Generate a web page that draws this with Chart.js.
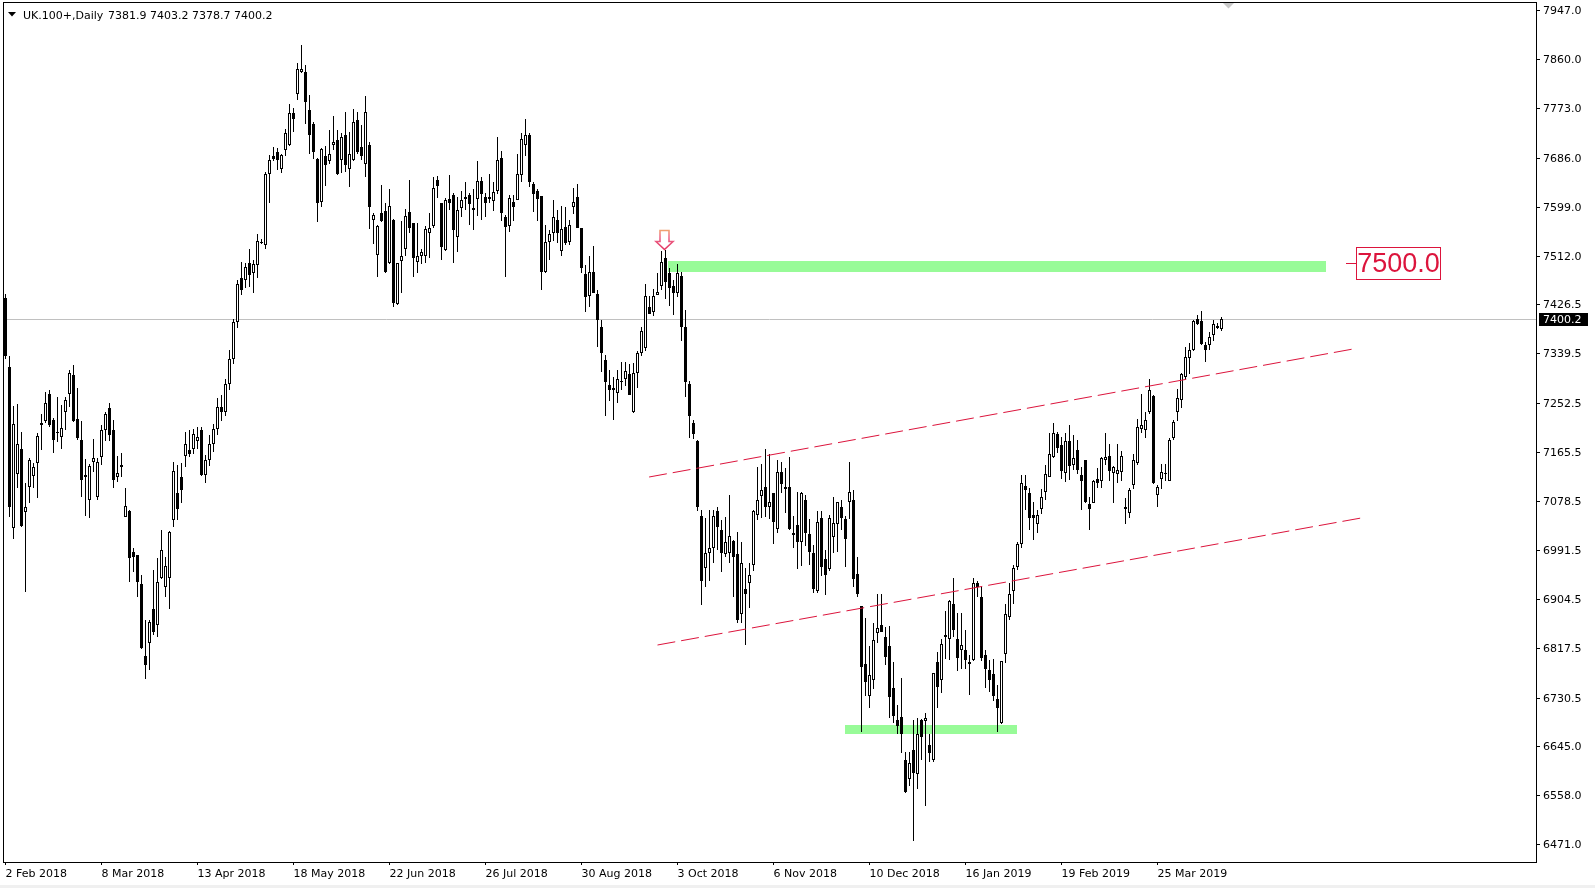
<!DOCTYPE html>
<html>
<head>
<meta charset="utf-8">
<script src="https://cdn.jsdelivr.net/npm/chart.js@4/dist/chart.umd.min.js"></script>
<style>
html,body{margin:0;padding:0;background:#fff;overflow:hidden}
#c{display:block}
</style>
</head>
<body>
<canvas id="c" width="1595" height="888"></canvas>
<script>
// ---------- chart data ----------
const symbolTitle = 'UK.100+,Daily';
const lastQuote = [7381.9, 7403.2, 7378.7, 7400.2]; // O H L C of last bar

const opens = [
7437,7315,7030,7127,7170,7059,7104,7123,7145,7212,
7220,7267,7222,7201,7191,7236,7267,7301,7223,7186,
7124,7081,7148,7086,7156,7204,7242,7204,7120,7142,
7050,7061,6989,6983,6931,6804,6828,6888,6859,6943,
6926,6943,7045,7092,7121,7158,7168,7171,7185,7204,
7124,7150,7180,7205,7245,7235,7285,7330,7395,7472,
7470,7499,7481,7495,7537,7532,7656,7688,7696,7665,
7699,7709,7764,7798,7838,7837,7770,7746,7683,7608,
7688,7680,7708,7717,7682,7725,7665,7682,7752,7704,
7674,7708,7575,7513,7588,7591,7499,7576,7427,7503,
7525,7589,7571,7502,7511,7512,7552,7564,7646,7605,
7522,7613,7620,7546,7597,7612,7620,7597,7612,7645,
7616,7613,7609,7626,7685,7580,7564,7607,7611,7655,
7709,7726,7640,7627,7618,7484,7537,7553,7576,7520,
7563,7537,7598,7617,7561,7480,7441,7483,7445,7386,
7328,7284,7274,7270,7291,7295,7303,7235,7305,7340,
7349,7421,7413,7442,7458,7508,7481,7459,7447,7476,
7386,7285,7216,7185,7051,6959,6986,6995,7060,7027,
6985,6986,7008,6985,6879,6922,6933,6965,7054,7088,
7103,7068,7092,7028,7130,7103,7104,7021,7036,7006,
7080,7020,6986,6920,7048,6975,6958,7015,7038,7067,
7046,7077,7081,6950,6893,6790,6733,6761,6845,6859,
6837,6822,6747,6691,6696,6621,6586,6638,6595,6691,
6689,6647,6620,6794,6761,6837,6834,6896,6835,6815,
6815,6790,6797,6934,6908,6806,6779,6772,6728,6686,
6808,6873,6920,6961,7002,7105,7093,7053,7038,7064,
7095,7121,7157,7197,7177,7128,7185,7142,7169,7124,
7150,7073,7075,7118,7113,7150,7158,7128,7127,7130,
7067,7058,7107,7145,7205,7204,7235,7264,7089,7118,
7127,7113,7189,7235,7257,7298,7331,7345,7400,7396,
7354,7354,7372,7388,7381.9
];
const highs = [
7445,7334,7246,7250,7200,7111,7154,7145,7198,7232,
7272,7275,7225,7262,7248,7262,7310,7319,7278,7219,
7152,7144,7188,7154,7213,7236,7252,7222,7158,7164,
7102,7062,6995,6983,6947,6868,6867,6957,6977,7027,
6980,7026,7148,7142,7146,7201,7204,7205,7210,7210,
7160,7195,7215,7260,7265,7295,7345,7400,7470,7502,
7500,7524,7505,7551,7541,7661,7690,7704,7702,7693,
7736,7781,7774,7854,7885,7850,7797,7748,7685,7702,
7706,7735,7760,7735,7729,7767,7732,7771,7767,7744,
7795,7714,7587,7567,7637,7606,7631,7577,7499,7574,
7595,7646,7571,7571,7525,7564,7587,7652,7653,7606,
7614,7655,7623,7616,7626,7642,7624,7630,7679,7652,
7624,7657,7642,7723,7698,7584,7620,7620,7693,7730,
7754,7729,7642,7631,7618,7567,7558,7610,7593,7600,
7598,7576,7632,7640,7561,7496,7512,7530,7452,7399,
7337,7310,7298,7310,7325,7325,7321,7322,7343,7387,
7463,7441,7453,7481,7520,7522,7490,7469,7498,7484,
7416,7290,7222,7186,7063,7048,7063,7063,7068,7045,
7050,7089,7009,7024,7005,6959,6968,7063,7138,7144,
7170,7162,7093,7151,7148,7136,7156,7051,7095,7095,
7089,7046,7001,7060,7060,6992,7054,7086,7077,7081,
7051,7148,7098,6979,6893,6871,6821,6862,6914,6914,
6856,6857,6794,6718,6766,6635,6635,6691,6694,6692,
6703,6667,6774,6812,6835,6883,6904,6942,6880,6880,
6850,6806,6943,6936,6928,6815,6797,6798,6753,6796,
6896,6933,6965,7005,7124,7124,7101,7077,7062,7099,
7142,7198,7217,7201,7191,7199,7213,7195,7186,7138,
7151,7086,7115,7136,7157,7198,7180,7140,7180,7166,
7083,7101,7162,7223,7268,7235,7294,7266,7107,7144,
7144,7189,7222,7276,7305,7351,7357,7399,7407,7415,
7360,7378,7399,7393,7403.2
];
const lows = [
7330,7050,7012,7102,7032,6918,7075,7102,7083,7169,
7217,7210,7164,7183,7170,7204,7245,7218,7186,7086,
7052,7048,7130,7080,7142,7185,7185,7102,7112,7121,
7050,6935,6953,6909,6816,6764,6779,6841,6837,6941,
6909,6888,7033,7045,7074,7139,7157,7162,7171,7122,
7110,7140,7165,7195,7220,7228,7275,7320,7385,7443,
7455,7457,7446,7472,7533,7525,7605,7680,7664,7659,
7688,7706,7732,7787,7836,7745,7693,7684,7572,7599,
7636,7674,7700,7655,7658,7661,7634,7680,7693,7682,
7651,7559,7533,7474,7572,7481,7498,7421,7425,7446,
7512,7552,7474,7481,7497,7499,7508,7561,7614,7504,
7520,7593,7500,7518,7580,7593,7567,7557,7583,7576,
7580,7605,7592,7622,7573,7474,7555,7574,7610,7643,
7689,7633,7590,7574,7451,7482,7505,7538,7534,7511,
7531,7531,7586,7562,7481,7412,7422,7446,7350,7307,
7229,7256,7221,7251,7275,7281,7265,7234,7278,7334,
7343,7410,7406,7442,7452,7435,7423,7407,7440,7362,
7263,7189,7188,7060,6894,6927,6936,6969,6992,6953,
6980,6968,6909,6862,6862,6824,6889,6955,7045,7048,
7050,7046,7002,7021,7092,7057,7027,6995,6958,6963,
6998,6965,6915,6916,6946,6912,6955,6986,6989,7027,
6961,7046,6926,6909,6670,6733,6713,6745,6828,6847,
6788,6694,6685,6666,6632,6562,6574,6476,6568,6620,
6538,6616,6617,6713,6739,6798,6797,6838,6778,6782,
6782,6735,6796,6909,6796,6747,6741,6725,6670,6684,
6791,6867,6897,6956,6995,7062,7027,7010,7021,7056,
7080,7120,7154,7163,7117,7112,7115,7134,7127,7062,
7075,7027,7074,7101,7101,7142,7113,7074,7110,7113,
7038,7048,7099,7142,7199,7189,7233,7108,7067,7099,
7113,7113,7187,7220,7242,7295,7303,7344,7390,7354,
7325,7345,7362,7382,7378.7
];
const closes = [
7334,7067,7214,7180,7034,7067,7150,7138,7194,7216,
7251,7213,7187,7198,7207,7257,7304,7220,7190,7115,
7121,7140,7154,7148,7204,7232,7195,7115,7128,7139,
7070,6977,6980,6935,6818,6788,6865,6847,6935,6992,
6963,7023,7131,7064,7098,7180,7162,7197,7192,7124,
7150,7180,7205,7245,7235,7285,7330,7395,7463,7452,
7492,7479,7498,7538,7534,7656,7682,7683,7682,7690,
7729,7764,7754,7842,7842,7784,7725,7696,7606,7701,
7672,7693,7713,7657,7723,7672,7693,7749,7695,7688,
7766,7599,7584,7565,7573,7483,7600,7429,7499,7511,
7583,7561,7509,7512,7518,7560,7561,7632,7635,7528,
7611,7606,7558,7593,7611,7616,7603,7594,7645,7621,
7606,7616,7625,7682,7587,7563,7614,7599,7656,7718,
7726,7642,7621,7612,7484,7537,7551,7580,7552,7560,
7535,7566,7607,7562,7490,7439,7484,7446,7399,7340,
7288,7274,7278,7294,7288,7308,7265,7304,7340,7379,
7441,7410,7441,7448,7502,7465,7455,7447,7481,7387,
7288,7228,7197,7067,6937,6987,6995,7051,7033,6986,
7005,7016,6979,6868,6969,6913,6948,7060,7081,7097,
7067,7076,7042,7129,7108,7099,7028,7018,7006,7092,
7021,6989,6922,7042,6962,6948,7048,7039,7076,7048,
7011,7094,6940,6914,6785,6759,6771,6833,6853,6847,
6802,6731,6698,6680,6666,6564,6614,6597,6666,6660,
6695,6633,6774,6750,6825,6841,6902,6851,6800,6824,
6797,6794,6933,6926,6800,6782,6762,6733,6712,6796,
6878,6914,6959,7002,7110,7098,7049,7049,7054,7085,
7126,7162,7198,7172,7132,7185,7140,7154,7134,7113,
7077,7065,7113,7110,7154,7156,7132,7138,7134,7158,
7065,7097,7151,7209,7213,7222,7275,7111,7103,7130,
7126,7187,7218,7260,7303,7333,7345,7396,7391,7356,
7345,7369,7391,7384,7400.2
];

// axis labels
const dateTickLabels = ['2 Feb 2018','8 Mar 2018','13 Apr 2018','18 May 2018','22 Jun 2018','26 Jul 2018',
  '30 Aug 2018','3 Oct 2018','6 Nov 2018','10 Dec 2018','16 Jan 2019','19 Feb 2019','25 Mar 2019'];
const dateTickStep = 24; // bars between date labels
const priceTicks = [7947.0,7860.0,7773.0,7686.0,7599.0,7512.0,7426.5,7339.5,7252.5,7165.5,
  7078.5,6991.5,6904.5,6817.5,6730.5,6645.0,6558.0,6471.0];

// drawn objects (bar index, price)
const channelUpper = [[160.9, 7121.3], [336.9, 7347.4]];
const channelLower = [[163.0, 6823.6], [338.9, 7049.0]];
const resistanceZone = {from: 165.5, to: 330.0, low: 7484.0, high: 7502.5};
const supportZone = {from: 209.9, to: 252.9, low: 6666.0, high: 6682.0};
const levelLabel = {price: 7500.0, at: 335};
const arrowBar = 165;

// ---------- styles ----------
const FONT = '"DejaVu Sans", sans-serif';
const RED = '#dc143c';
const ZONE = 'rgb(152,251,152)';

const idx = opens.map((_, i) => i);
const wickData = idx.map(i => ({x: i, y: [lows[i], highs[i]]}));
const bodyData = idx.map(i => ({x: i, y: [opens[i], closes[i]]}));
const bodyFill = idx.map(i => closes[i] >= opens[i] ? '#ffffff' : '#000000');

const decor = {
  id: 'decor',
  beforeDraw(chart) {
    const c = chart.ctx;
    c.save();
    c.fillStyle = '#ffffff';
    c.fillRect(0, 0, chart.width, chart.height);
    c.fillStyle = '#f0f0f0';
    c.fillRect(0, 885, chart.width, 3);
    c.restore();
  },
  beforeDatasetsDraw(chart) {
    const {ctx, chartArea: a, scales: {x, y}} = chart;
    ctx.save();
    ctx.beginPath();
    ctx.rect(a.left, a.top, a.right - a.left, a.bottom - a.top);
    ctx.clip();
    for (const z of [resistanceZone, supportZone]) {
      const x0 = Math.round(x.getPixelForValue(z.from));
      const x1 = Math.round(x.getPixelForValue(z.to));
      const y0 = Math.round(y.getPixelForValue(z.high));
      const y1 = Math.round(y.getPixelForValue(z.low));
      ctx.fillStyle = ZONE;
      ctx.fillRect(x0, y0, x1 - x0, y1 - y0);
    }
    const by = Math.round(y.getPixelForValue(lastQuote[3])) + 0.5;
    ctx.strokeStyle = '#c0c0c0';
    ctx.lineWidth = 1;
    ctx.beginPath();
    ctx.moveTo(a.left, by);
    ctx.lineTo(a.right, by);
    ctx.stroke();
    ctx.restore();
  },
  afterDatasetsDraw(chart) {
    const {ctx, scales: {x, y}} = chart;
    ctx.save();
    // arrow marker above the swing high
    const tx = x.getPixelForValue(arrowBar) - 1;
    const ty = y.getPixelForValue(highs[arrowBar]) - 0.5;
    const g = ctx.createLinearGradient(0, ty - 19, 0, ty);
    g.addColorStop(0, '#f0a070');
    g.addColorStop(0.35, '#ee6d90');
    g.addColorStop(1, '#e2305e');
    ctx.beginPath();
    ctx.moveTo(tx - 4.5, ty - 19);
    ctx.lineTo(tx + 4.5, ty - 19);
    ctx.lineTo(tx + 4.5, ty - 8);
    ctx.lineTo(tx + 8.5, ty - 8);
    ctx.lineTo(tx, ty);
    ctx.lineTo(tx - 8.5, ty - 8);
    ctx.lineTo(tx - 4.5, ty - 8);
    ctx.closePath();
    ctx.fillStyle = '#ffffff';
    ctx.fill();
    ctx.strokeStyle = g;
    ctx.lineWidth = 1.6;
    ctx.stroke();

    // price level label
    const lx = Math.round(x.getPixelForValue(levelLabel.at));
    const ly = Math.round(y.getPixelForValue(levelLabel.price));
    ctx.strokeStyle = RED;
    ctx.lineWidth = 1;
    ctx.beginPath();
    ctx.moveTo(lx, ly + 0.5);
    ctx.lineTo(lx + 11, ly + 0.5);
    ctx.stroke();
    ctx.strokeRect(lx + 10.5, ly - 15.5, 84, 32);
    ctx.fillStyle = RED;
    ctx.font = '27px "Liberation Sans", sans-serif';
    ctx.textAlign = 'center';
    ctx.textBaseline = 'middle';
    ctx.fillText(levelLabel.price.toFixed(1), lx + 52.5, ly + 1.5);
    ctx.restore();
  },
  afterDraw(chart) {
    const {ctx, chartArea: a, scales: {y}} = chart;
    ctx.save();
    // frame
    ctx.strokeStyle = '#000';
    ctx.lineWidth = 1;
    ctx.strokeRect(a.left + 0.5, a.top + 0.5, a.right - a.left, a.bottom - a.top);
    // chart shift marker
    ctx.fillStyle = '#c8c8c8';
    ctx.beginPath();
    ctx.moveTo(1223, 3); ctx.lineTo(1234, 3); ctx.lineTo(1228.5, 8.5); ctx.closePath();
    ctx.fill();
    // title
    ctx.fillStyle = '#000';
    ctx.beginPath();
    ctx.moveTo(8, 12); ctx.lineTo(16, 12); ctx.lineTo(12, 16.5); ctx.closePath();
    ctx.fill();
    ctx.font = '11px ' + FONT;
    ctx.textBaseline = 'alphabetic';
    ctx.textAlign = 'left';
    ctx.fillText(symbolTitle, 23, 19);
    ctx.fillText(lastQuote.map(v => v.toFixed(1)).join(' '), 108, 19);
    // current price tag on axis
    const py = Math.round(y.getPixelForValue(lastQuote[3]));
    ctx.fillStyle = '#000';
    ctx.fillRect(1539, py - 6, 49, 13);
    ctx.fillStyle = '#fff';
    ctx.textBaseline = 'middle';
    ctx.fillText(lastQuote[3].toFixed(1), 1543, py + 1);
    ctx.restore();
  }
};

new Chart(document.getElementById('c'), {
  type: 'bar',
  data: {
    datasets: [
      {
        type: 'line', label: 'channel top',
        data: channelUpper.map(p => ({x: p[0], y: p[1]})),
        borderColor: RED, borderWidth: 1, borderDash: [18, 6],
        pointRadius: 0, fill: false, order: 0
      },
      {
        type: 'line', label: 'channel bottom',
        data: channelLower.map(p => ({x: p[0], y: p[1]})),
        borderColor: RED, borderWidth: 1, borderDash: [18, 6],
        pointRadius: 0, fill: false, order: 0
      },
      {
        label: 'body', data: bodyData,
        backgroundColor: bodyFill, borderColor: '#000', borderWidth: 1,
        borderSkipped: false, barThickness: 3, grouped: false,
        minBarLength: 1, inflateAmount: 0, order: 1
      },
      {
        label: 'wick', data: wickData,
        backgroundColor: '#000', borderWidth: 0,
        barThickness: 1, grouped: false, inflateAmount: 0, order: 2
      }
    ]
  },
  options: {
    responsive: false,
    devicePixelRatio: 1,
    animation: false,
    events: [],
    layout: {padding: {left: 3, top: 2, right: 0, bottom: 0}},
    plugins: {legend: {display: false}, tooltip: {enabled: false}, title: {display: false}},
    scales: {
      x: {
        type: 'linear', min: -0.625, max: 382.625, offset: false, bounds: 'data',
        border: {display: false},
        grid: {display: true, drawOnChartArea: false, drawTicks: true, tickLength: 3, color: '#000', offset: false},
        afterBuildTicks: s => { s.ticks = dateTickLabels.map((_, k) => ({value: k * dateTickStep})); },
        ticks: {
          autoSkip: false, maxRotation: 0, minRotation: 0, align: 'start', padding: 3,
          color: '#000', font: {family: FONT, size: 11},
          callback: (v, k) => dateTickLabels[k]
        },
        afterFit: s => { s.height = 26; s.paddingLeft = 0; s.paddingRight = 0; }
      },
      y: {
        type: 'linear', position: 'right', min: 6439.69, max: 7961.15, bounds: 'data',
        alignToPixels: true,
        border: {display: false},
        grid: {display: true, drawOnChartArea: false, drawTicks: true, tickLength: 4, color: '#000'},
        afterBuildTicks: s => { s.ticks = priceTicks.map(v => ({value: v})); },
        ticks: {
          autoSkip: false, padding: 3, labelOffset: 1, color: '#000', font: {family: FONT, size: 11},
          callback: v => Number(v).toFixed(1)
        },
        afterFit: s => { s.width = 59; s.paddingTop = 0; s.paddingBottom = 0; }
      }
    }
  },
  plugins: [decor]
});
</script>
</body>
</html>
